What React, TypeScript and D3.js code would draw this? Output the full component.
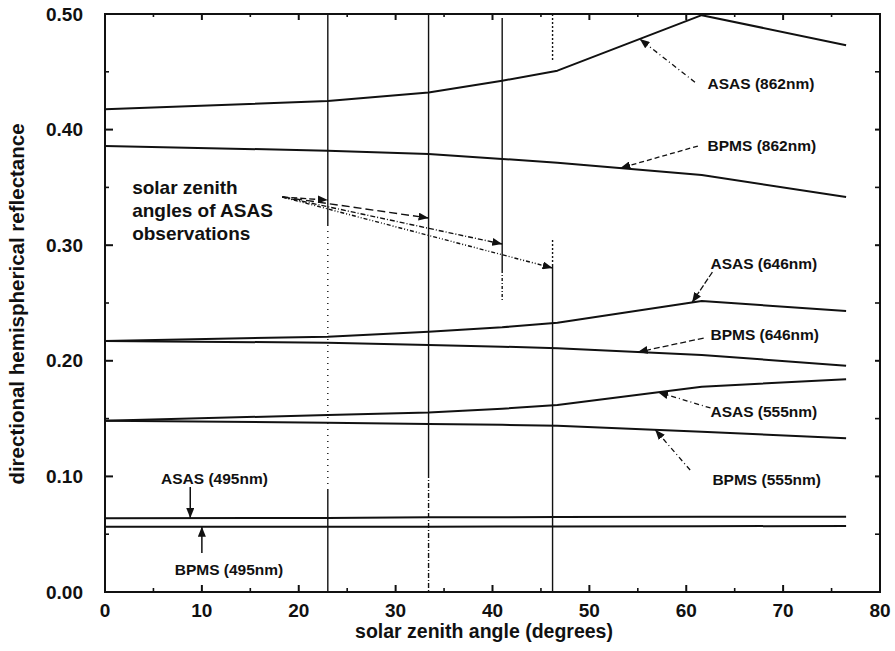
import React from "react";
import * as d3 from "d3";

// Solar zenith angle nodes (degrees) shared by every modelled series
const angles = [0, 23, 33.4, 41, 46.7, 61.6, 76.5];

// Directional hemispherical reflectance per band
const asas862 = [0.4176, 0.4247, 0.432, 0.4423, 0.451, 0.499, 0.473];
const bpms862 = [0.3858, 0.3818, 0.3789, 0.3746, 0.3714, 0.3607, 0.3417];
const asas646 = [0.2171, 0.2209, 0.2252, 0.229, 0.233, 0.2517, 0.2431];
const bpms646 = [0.2171, 0.2157, 0.2137, 0.2122, 0.2108, 0.205, 0.1958];
const asas555 = [0.1482, 0.1531, 0.1553, 0.1585, 0.1618, 0.1776, 0.184];
const bpms555 = [0.1482, 0.1465, 0.1453, 0.1446, 0.1439, 0.1387, 0.133];
const asas495 = [0.0638, 0.0641, 0.0646, 0.0647, 0.0648, 0.065, 0.0651];
const bpms495 = [0.0565, 0.0565, 0.0565, 0.0566, 0.0567, 0.0569, 0.0571];

const seriesList = [asas862, bpms862, asas646, bpms646, asas555, bpms555, asas495, bpms495];

// Solar zenith angles of the ASAS observations
const obsAngles = [23, 33.4, 41, 46.2];

// Axis ticks
const xMajorTicks = [0, 10, 20, 30, 40, 50, 60, 70, 80];
const xMinorTicks = [5, 15, 25, 35, 45, 55, 65, 75];
const yMajorTicks = [0, 0.1, 0.2, 0.3, 0.4, 0.5];
const yMinorTicks = [0.05, 0.15, 0.25, 0.35, 0.45];
const yTickLabels = ["0.00", "0.10", "0.20", "0.30", "0.40", "0.50"];

const xTitle = "solar zenith angle (degrees)";
const yTitle = "directional hemispherical reflectance";
const noteLines = ["solar zenith", "angles of ASAS", "observations"];

// Band labels: text anchor (angle, reflectance), arrow start, and the series angle the arrow points at
const callouts = [
  { text: "ASAS (862nm)", tx: 62.2, ty: 0.4394, sx: 60.9, sy: 0.441, series: asas862, at: 55.2, dash: "5,3,1,3" },
  { text: "BPMS (862nm)", tx: 62.2, ty: 0.3858, sx: 61.2, sy: 0.3858, series: bpms862, at: 53.2, dash: "5,3" },
  { text: "ASAS (646nm)", tx: 62.5, ty: 0.2837, sx: 62.7, sy: 0.2768, series: asas646, at: 60.6, dash: "6,2" },
  { text: "BPMS (646nm)", tx: 62.5, ty: 0.2223, sx: 61.8, sy: 0.2197, series: bpms646, at: 55.0, dash: "6,3" },
  { text: "ASAS (555nm)", tx: 62.5, ty: 0.1557, sx: 62.5, sy: 0.1592, series: asas555, at: 57.1, dash: "5,3,1,3" },
  { text: "BPMS (555nm)", tx: 62.7, ty: 0.0969, sx: 60.4, sy: 0.1055, series: bpms555, at: 56.8, dash: "5,3,1,3" },
];

// Labels for the two 495nm lines, drawn with vertical arrows
const lowCallouts = [
  { text: "ASAS (495nm)", tx: 11.3, ty: 0.0978, sx: 8.8, sy: 0.0908, series: asas495, at: 8.8 },
  { text: "BPMS (495nm)", tx: 12.8, ty: 0.019, sx: 10.0, sy: 0.0337, series: bpms495, at: 10.0 },
];

// Where the note's arrows start and the reflectance they reach on each observation line
const noteArrowStart = { a: 18.3, v: 0.3417 };
const noteArrowEnds = [0.339, 0.3235, 0.301, 0.2803];
const noteArrowDash = ["6,3", "8,4", "5,2,1,2", "4,2,1,2,1,2"];

// Observation line segments: [from reflectance, to reflectance, dash]
const obsSegments = [
  [[0.5, 0.3175, ""], [0.3175, 0.0882, "1,5"], [0.0882, 0, ""]],
  [[0.5, 0.103, ""], [0.103, 0, "5,2,1,2"]],
  [[0.4965, 0.2785, ""], [0.2785, 0.2526, "3,2,1,2"]],
  [[0.5, 0.4585, "2,2"], [0.3045, 0.2829, "2,2"], [0.2829, 0, ""]],
] as [number, number, string][][];

const W = 895;
const H = 651;
const FONT = "'Liberation Sans', Arial, Helvetica, sans-serif";
const INK = "#111";

export default function App() {
  const x = d3.scaleLinear().domain([0, 80]).range([105, 880]);
  const y = d3.scaleLinear().domain([0, 0.5]).range([592, 14]);

  const line = d3
    .line<number>()
    .x((_, i) => x(angles[i]))
    .y((d) => y(d));

  const valueAt = (series: number[], a: number) =>
    d3.scaleLinear().domain(angles).range(series)(a);

  const [x0, x1] = x.range();
  const [y0, y1] = y.range();

  return (
    <svg
      width={W}
      height={H}
      viewBox={`0 0 ${W} ${H}`}
      style={{ position: "absolute", left: 0, top: 0, background: "#fff" }}
      fontFamily={FONT}
    >
      <defs>
        <marker
          id="ah"
          viewBox="0 0 10 8"
          refX={10}
          refY={4}
          markerWidth={10}
          markerHeight={8}
          markerUnits="userSpaceOnUse"
          orient="auto"
        >
          <path d="M0,0 L10,4 L0,8 Z" fill={INK} />
        </marker>
      </defs>

      <rect x={0} y={0} width={W} height={H} fill="#fff" />

      {/* observation angle lines */}
      {obsAngles.map((a, i) =>
        obsSegments[i].map(([from, to, dash], j) => (
          <line
            key={`obs-${i}-${j}`}
            x1={x(a)}
            x2={x(a)}
            y1={y(from)}
            y2={y(to)}
            stroke={INK}
            strokeWidth={1.4}
            strokeDasharray={dash || undefined}
          />
        ))
      )}

      {/* reflectance curves */}
      {seriesList.map((s, i) => (
        <path key={`s-${i}`} d={line(s) ?? ""} fill="none" stroke={INK} strokeWidth={2} strokeLinejoin="round" />
      ))}

      {/* frame */}
      <rect x={x0} y={y1} width={x1 - x0} height={y0 - y1} fill="none" stroke={INK} strokeWidth={2} />

      {/* x ticks: bottom and top, pointing inward */}
      {xMajorTicks.map((t) => (
        <g key={`xt-${t}`}>
          <line x1={x(t)} x2={x(t)} y1={y0} y2={y0 - 7} stroke={INK} strokeWidth={2} />
          <line x1={x(t)} x2={x(t)} y1={y1} y2={y1 + 6} stroke={INK} strokeWidth={2} />
          <text
            x={x(t)}
            y={y0 + 18}
            dy="0.35em"
            textAnchor="middle"
            fontSize={19}
            fontWeight="bold"
            fill={INK}
          >
            {t}
          </text>
        </g>
      ))}
      {xMinorTicks.map((t) => (
        <g key={`xm-${t}`}>
          <line x1={x(t)} x2={x(t)} y1={y0} y2={y0 - 4} stroke={INK} strokeWidth={1.6} />
          <line x1={x(t)} x2={x(t)} y1={y1} y2={y1 + 3} stroke={INK} strokeWidth={1.6} />
        </g>
      ))}

      {/* y ticks: left and right, pointing inward */}
      {yMajorTicks.map((t, i) => (
        <g key={`yt-${t}`}>
          <line x1={x0} x2={x0 + 8} y1={y(t)} y2={y(t)} stroke={INK} strokeWidth={2} />
          <line x1={x1} x2={x1 - 5} y1={y(t)} y2={y(t)} stroke={INK} strokeWidth={2} />
          <text
            x={x0 - 22}
            y={y(t)}
            dy="0.35em"
            textAnchor="end"
            fontSize={19}
            fontWeight="bold"
            fill={INK}
          >
            {yTickLabels[i]}
          </text>
        </g>
      ))}
      {yMinorTicks.map((t) => (
        <g key={`ym-${t}`}>
          <line x1={x0} x2={x0 + 4} y1={y(t)} y2={y(t)} stroke={INK} strokeWidth={1.6} />
          <line x1={x1} x2={x1 - 5} y1={y(t)} y2={y(t)} stroke={INK} strokeWidth={1.6} />
        </g>
      ))}

      {/* axis titles */}
      <text x={484} y={631} dy="0.35em" textAnchor="middle" fontSize={19.5} fontWeight="bold" fill={INK}>
        {xTitle}
      </text>
      <text
        transform={`translate(17, 304) rotate(-90)`}
        dy="0.35em"
        textAnchor="middle"
        fontSize={20.5}
        fontWeight="bold"
        fill={INK}
      >
        {yTitle}
      </text>

      {/* note about observation angles */}
      {noteLines.map((t, i) => (
        <text
          key={`note-${i}`}
          x={x(2.8)}
          y={187 + i * 23}
          dy="0.35em"
          fontSize={19}
          fontWeight="bold"
          fill={INK}
        >
          {t}
        </text>
      ))}
      {obsAngles.map((a, i) => (
        <line
          key={`na-${i}`}
          x1={x(noteArrowStart.a)}
          y1={y(noteArrowStart.v)}
          x2={x(a)}
          y2={y(noteArrowEnds[i])}
          stroke={INK}
          strokeWidth={1.4}
          strokeDasharray={noteArrowDash[i]}
          markerEnd="url(#ah)"
        />
      ))}

      {/* band callouts */}
      {callouts.map((c) => (
        <g key={c.text}>
          <line
            x1={x(c.sx)}
            y1={y(c.sy)}
            x2={x(c.at)}
            y2={y(valueAt(c.series, c.at))}
            stroke={INK}
            strokeWidth={1.3}
            strokeDasharray={c.dash}
            markerEnd="url(#ah)"
          />
          <text x={x(c.tx)} y={y(c.ty)} dy="0.35em" fontSize={15.5} fontWeight="bold" fill={INK}>
            {c.text}
          </text>
        </g>
      ))}
      {lowCallouts.map((c) => (
        <g key={c.text}>
          <line
            x1={x(c.sx)}
            y1={y(c.sy)}
            x2={x(c.at)}
            y2={y(valueAt(c.series, c.at))}
            stroke={INK}
            strokeWidth={1.5}
            markerEnd="url(#ah)"
          />
          <text
            x={x(c.tx)}
            y={y(c.ty)}
            dy="0.35em"
            textAnchor="middle"
            fontSize={15.5}
            fontWeight="bold"
            fill={INK}
          >
            {c.text}
          </text>
        </g>
      ))}
    </svg>
  );
}
